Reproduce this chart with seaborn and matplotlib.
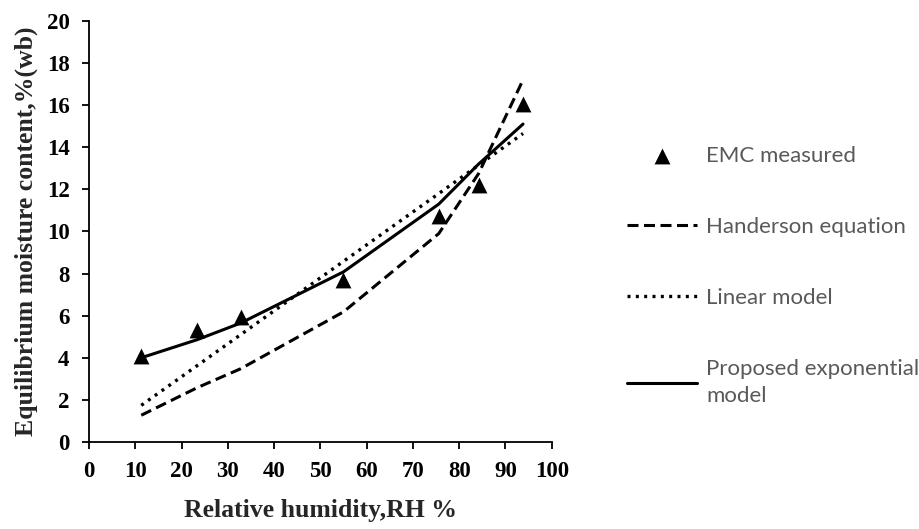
import matplotlib
matplotlib.use("Agg")
import matplotlib.pyplot as plt
import seaborn as sns
import pandas as pd

# relative humidity (%) and moisture content values
rh = [11.3, 23.4, 32.8, 55.0, 75.6, 84.2, 93.8]
emc_measured = [4.1, 5.3, 5.95, 7.7, 10.75, 12.2, 16.05]
handerson = [1.27, 2.58, 3.48, 6.18, 9.9, 12.75, 17.2]
linear = [1.74, 3.63, 5.10, 8.58, 11.8, 13.15, 14.65]
proposed = [4.0, 4.86, 5.65, 8.08, 11.3, 13.2, 15.1]

df = pd.DataFrame({"rh": rh, "emc": emc_measured, "hand": handerson,
                   "lin": linear, "prop": proposed})

sns.set_style("ticks")
plt.rcParams["font.family"] = ["Liberation Serif", "DejaVu Serif"]
plt.rcParams["font.weight"] = "bold"
plt.rcParams["font.size"] = 16

fig = plt.figure(figsize=(9.2, 5.29), dpi=100)
ax = fig.add_axes([0.0967, 0.1645, 0.503, 0.796])

sns.scatterplot(data=df, x="rh", y="emc", marker="^", s=130, color="black",
                edgecolor="black", linewidth=0, zorder=4, ax=ax, label="EMC measured")
sns.lineplot(data=df, x="rh", y="hand", color="black", lw=2.2, ax=ax,
             label="Handerson equation")
ax.lines[-1].set_dashes((3.6, 1.8))
sns.lineplot(data=df, x="rh", y="lin", color="black", lw=2.4, ax=ax,
             label="Linear model")
ax.lines[-1].set_linestyle((0, (0.9, 1.6)))
sns.lineplot(data=df, x="rh", y="prop", color="black", lw=2.2, ax=ax,
             label="Proposed exponential\nmodel")

ax.set_xlim(0, 100)
ax.set_ylim(0, 20)
ax.set_xticks(range(0, 101, 10))
ax.set_yticks(range(0, 21, 2))
sns.despine(ax=ax)
for s in ["left", "bottom"]:
    ax.spines[s].set_linewidth(1.3)
    ax.spines[s].set_color("black")
ax.tick_params(direction="out", length=5, width=1.3, labelsize=16.5,
               colors="black")
ax.tick_params(axis="x", pad=9)
ax.tick_params(axis="y", pad=9)

ax.set_xlabel("Relative humidity,RH %", fontweight="bold",
              fontsize=18.5, labelpad=12)
ax.set_ylabel("Equilibrium moisture content,%(wb)",
              fontweight="bold", fontsize=18.5, labelpad=6)

leg = ax.legend(loc="upper left", bbox_to_anchor=(0.66, 0.762),
                bbox_transform=fig.transFigure, frameon=False,
                handlelength=3.15, handletextpad=0.4, labelspacing=2.3,
                prop={"family": ["Lato", "DejaVu Sans"], "size": 16,
                      "weight": "normal"})
for t in leg.get_texts():
    t.set_color("#595959")
    t.set_linespacing(1.45)

fig.savefig("out.png", dpi=100)
